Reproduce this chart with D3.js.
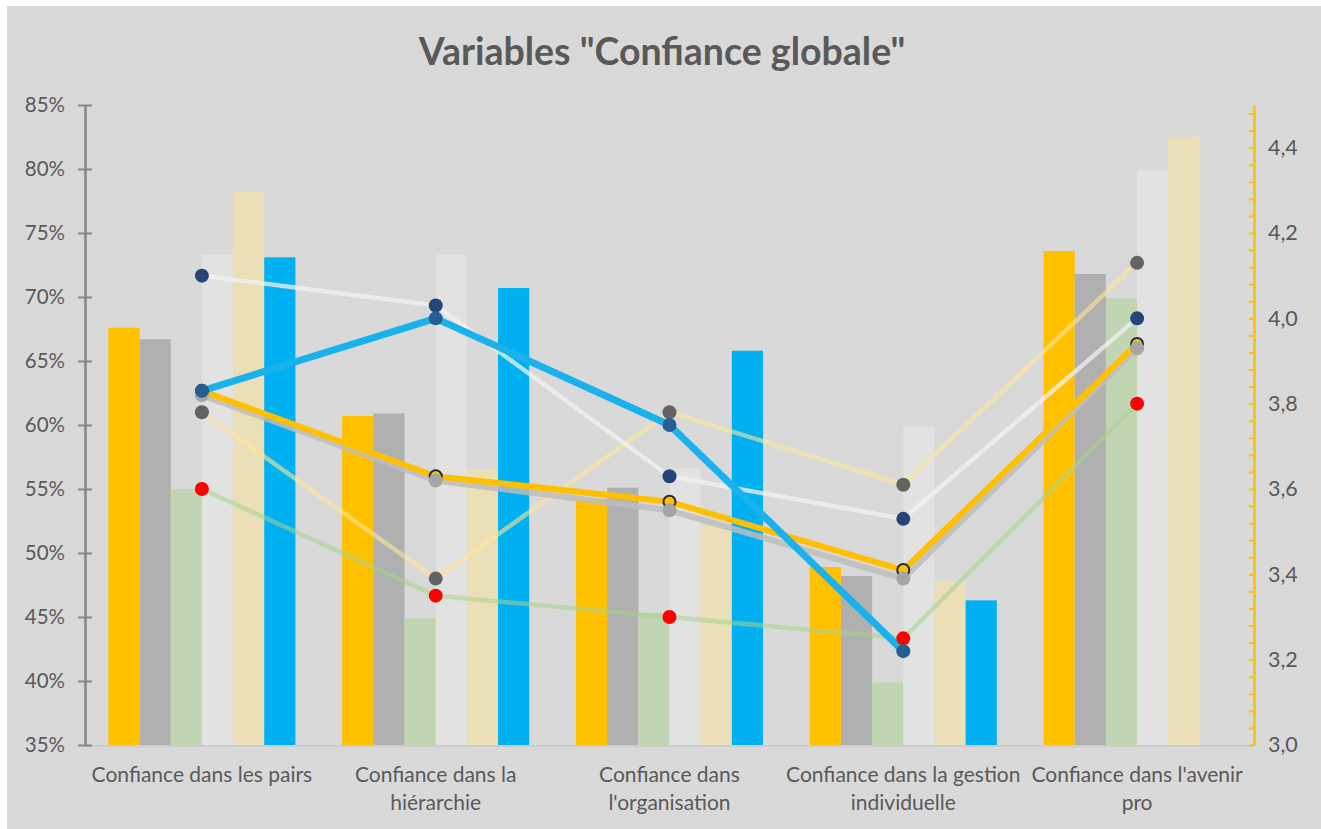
<!DOCTYPE html>
<html>
<head>
<meta charset="utf-8">
<script src="https://cdn.jsdelivr.net/npm/d3@7"></script>
<style>
  html, body { margin: 0; padding: 0; background: #ffffff; }
  svg { display: block; }
  text { font-family: Lato, "Open Sans", sans-serif; fill: #595959; }
</style>
</head>
<body>
<svg id="chart" width="1321" height="829"></svg>
<script>
// Categories (x axis)
const categories = [
  "Confiance dans les pairs",
  "Confiance dans la hiérarchie",
  "Confiance dans l'organisation",
  "Confiance dans la gestion individuelle",
  "Confiance dans l'avenir pro"
];
const categoryLines = [
  ["Confiance dans les pairs"],
  ["Confiance dans la", "hiérarchie"],
  ["Confiance dans", "l'organisation"],
  ["Confiance dans la gestion", "individuelle"],
  ["Confiance dans l'avenir", "pro"]
];

// Bar series (percent, left axis)
const barYellow = [67.6, 60.7, 54.2, 48.9, 73.6];
const barGray   = [66.7, 60.9, 55.1, 48.2, 71.8];
const barGreen  = [55.0, 44.9, 45.3, 39.9, 69.9];
const barWhite  = [73.3, 73.3, 56.6, 59.9, 79.9];
const barBeige  = [78.2, 56.5, 52.1, 47.8, 82.5];
const barBlue   = [73.1, 70.7, 65.8, 46.3, null];

// Line series (mean score, right axis)
const lineYellow   = [3.83, 3.63, 3.57, 3.41, 3.94];
const lineGray     = [3.82, 3.62, 3.55, 3.39, 3.93];
const lineBlue     = [3.83, 4.00, 3.75, 3.22, null];
const lineWhite    = [4.10, 4.03, 3.63, 3.53, 4.00];
const lineCream    = [3.78, 3.39, 3.78, 3.61, 4.13];
const lineGreen    = [3.60, 3.35, 3.30, 3.25, 3.80];

// Axis ticks
const leftTicks  = [35, 40, 45, 50, 55, 60, 65, 70, 75, 80, 85];
const rightTicks = [3.0, 3.2, 3.4, 3.6, 3.8, 4.0, 4.2, 4.4];

const title = 'Variables "Confiance globale"';

// ---- series styling ----
const bars = [
  { values: barYellow, color: "#FFC000" },
  { values: barGray,   color: "#B0B0B0" },
  { values: barGreen,  color: "#C2D5B3" },
  { values: barWhite,  color: "#E2E2E2" },
  { values: barBeige,  color: "#EBDFB8" },
  { values: barBlue,   color: "#00B0F0" }
];
const lines = [
  { key: "green",  values: lineGreen,  stroke: "#A9D18E", opacity: 0.55, width: 4.5, marker: "#FF0000" },
  { key: "cream",  values: lineCream,  stroke: "#FFE699", opacity: 0.6,  width: 4.5, marker: "#636363" },
  { key: "white",  values: lineWhite,  stroke: "#F2F2F2", opacity: 0.75, width: 4.5, marker: "#264478" },
  { key: "gray",   values: lineGray,   stroke: "#BDBDBD", opacity: 0.85, width: 6,   marker: "#A5A5A5" },
  { key: "yellow", values: lineYellow, stroke: "#FFC000", opacity: 1,    width: 6,   marker: "#FFC000", ring: "#1F2A44" },
  { key: "blue",   values: lineBlue,   stroke: "#1AB2EC", opacity: 1,    width: 7,   marker: "#255E91" }
];
const markerOrder = ["yellow", "gray", "green", "cream", "white", "blue"];

const svg = d3.select("#chart");
const W = 1321, H = 829;
const plot = { left: 85, right: 1254, top: 105, bottom: 745 };

svg.append("rect").attr("x", 7).attr("y", 6).attr("width", W - 7).attr("height", H - 6)
  .attr("fill", "#D9D9D9");

const x0 = d3.scaleBand().domain(categories).range([plot.left, plot.right]).padding(0);
const bw = x0.bandwidth();
const x1 = d3.scaleBand().domain(d3.range(bars.length)).range([bw * 0.1, bw * 0.9]).padding(0);
const yL = d3.scaleLinear().domain([35, 85]).range([plot.bottom, plot.top]);
const yR = d3.scaleLinear().domain([3, 4.5]).range([plot.bottom, plot.top]);
const cx = c => x0(c) + bw / 2;

// category axis baseline
svg.append("line").attr("x1", plot.left).attr("x2", plot.right)
  .attr("y1", plot.bottom + 1).attr("y2", plot.bottom + 1)
  .attr("stroke", "#CDCDCD").attr("stroke-width", 2);

// bars
const gBars = svg.append("g");
bars.forEach((s, si) => {
  gBars.selectAll(null)
    .data(categories.map((c, i) => ({ c, v: s.values[i] })).filter(d => d.v != null))
    .join("rect")
    .attr("x", d => x0(d.c) + x1(si))
    .attr("width", x1.bandwidth())
    .attr("y", d => yL(d.v))
    .attr("height", d => yL(35) - yL(d.v))
    .attr("fill", s.color);
});

// lines
const lineGen = d3.line()
  .defined(d => d.v != null)
  .x(d => cx(d.c))
  .y(d => yR(d.v));
const gLines = svg.append("g");
lines.forEach(s => {
  const pts = categories.map((c, i) => ({ c, v: s.values[i] }));
  gLines.append("path")
    .datum(pts)
    .attr("d", lineGen)
    .attr("fill", "none")
    .attr("stroke", s.stroke)
    .attr("stroke-opacity", s.opacity)
    .attr("stroke-width", s.width)
    .attr("stroke-linejoin", "round");
});

// markers
const gMarkers = svg.append("g");
markerOrder.forEach(k => {
  const s = lines.find(l => l.key === k);
  gMarkers.selectAll(null)
    .data(categories.map((c, i) => ({ c, v: s.values[i] })).filter(d => d.v != null))
    .join("circle")
    .attr("cx", d => cx(d.c))
    .attr("cy", d => yR(d.v))
    .attr("r", s.ring ? 6 : 7)
    .attr("fill", s.marker)
    .attr("stroke", s.ring || "none")
    .attr("stroke-width", s.ring ? 2 : 0);
});

// left axis (cross ticks)
const gL = svg.append("g").attr("transform", `translate(${plot.left},0)`);
gL.call(d3.axisLeft(yL).tickValues(leftTicks).tickFormat(d => d + "%")
  .tickSizeInner(7).tickSizeOuter(0).tickPadding(13));
gL.append("g").call(d3.axisRight(yL).tickValues(leftTicks).tickFormat("")
  .tickSizeInner(7).tickSizeOuter(0));
gL.selectAll("path.domain").attr("stroke", "#868686").attr("stroke-width", 2);
gL.selectAll(".tick line").attr("stroke", "#868686").attr("stroke-width", 2);
gL.selectAll("text").attr("font-size", 20.5).attr("fill", "#595959")
  .style("font-family", "Lato, 'Open Sans', sans-serif");

// right axis (minor ticks inside, labels outside)
const minorTicks = d3.range(0, 38).map(i => +(3 + i * 0.04).toFixed(2));
const gR = svg.append("g").attr("transform", `translate(${plot.right},0)`);
gR.call(d3.axisLeft(yR).tickValues(minorTicks).tickFormat("")
  .tickSizeInner(5).tickSizeOuter(0));
gR.append("g").call(d3.axisRight(yR).tickValues(rightTicks)
  .tickFormat(d => d3.format(".1f")(d).replace(".", ","))
  .tickSizeInner(0).tickSizeOuter(0).tickPadding(14));
gR.selectAll("path.domain").attr("stroke", "#FFC000").attr("stroke-width", 2);
gR.selectAll(".tick line").attr("stroke", "#FFC000").attr("stroke-width", 2);
gR.selectAll("text").attr("font-size", 21.5).attr("fill", "#595959")
  .style("font-family", "Lato, 'Open Sans', sans-serif");

// category labels
const gX = svg.append("g");
categories.forEach((c, i) => {
  const t = gX.append("text")
    .attr("x", cx(c))
    .attr("y", 782)
    .attr("text-anchor", "middle")
    .attr("font-size", 21);
  categoryLines[i].forEach((ln, j) => {
    t.append("tspan").attr("x", cx(c)).attr("dy", j === 0 ? 0 : 28).text(ln);
  });
});

// title
svg.append("text")
  .attr("x", 662)
  .attr("y", 65)
  .attr("text-anchor", "middle")
  .attr("font-size", 37.5)
  .attr("font-weight", "bold")
  .attr("fill", "#595959")
  .text(title);
</script>
</body>
</html>
